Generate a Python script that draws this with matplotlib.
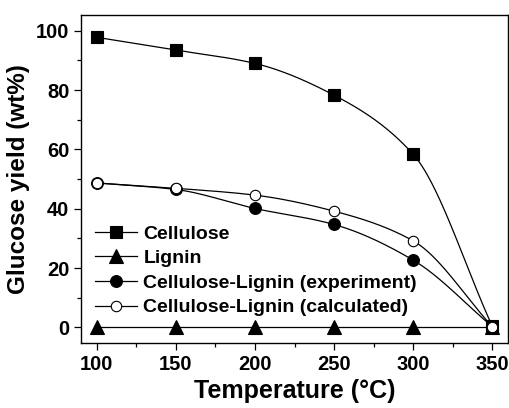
import numpy as np
import matplotlib.pyplot as plt
from matplotlib.ticker import MultipleLocator

# ==============================
# DATA
# ==============================

temperature = [100, 150, 200, 250, 300, 350]

cellulose = [97.8, 93.5, 89.0, 78.3, 58.4, 0.5]
cellulose_err = [0.8, 1.5, 1.2, 1.8, 1.0, 0.5]

lignin = [0, 0, 0, 0, 0, 0]

exp_yield = [48.7, 46.5, 40.1, 34.7, 22.7, 0.3]
exp_err = [1.5, 1.5, 0.6, 0.6, 0.6, 0.3]

calc_yield = [48.7, 46.9, 44.6, 39.2, 29.2, 0.3]
calc_err = [1.2, 1.2, 1.0, 1.0, 1.0, 0.3]

labels = ["Cellulose", "Lignin", "Cellulose-Lignin (experiment)",
          "Cellulose-Lignin (calculated)"]


def smooth(x, y, xs):
    # cubic hermite with damped tangents, for the smooth connecting line
    x = np.asarray(x, float)
    y = np.asarray(y, float)
    h = np.diff(x)
    d = np.diff(y) / h
    m = np.zeros_like(y)
    for k in range(1, len(x) - 1):
        if d[k - 1] * d[k] > 0:
            m[k] = 2.0 / (1.0 / d[k - 1] + 1.0 / d[k])
    m[0] = d[0]
    m[-1] = d[-1]
    idx = np.clip(np.searchsorted(x, xs) - 1, 0, len(x) - 2)
    t = (xs - x[idx]) / h[idx]
    h00 = 2 * t**3 - 3 * t**2 + 1
    h10 = t**3 - 2 * t**2 + t
    h01 = -2 * t**3 + 3 * t**2
    h11 = t**3 - t**2
    return (h00 * y[idx] + h10 * h[idx] * m[idx]
            + h01 * y[idx + 1] + h11 * h[idx] * m[idx + 1])


plt.rcParams['font.family'] = ['Liberation Sans', 'DejaVu Sans']
plt.rcParams['font.weight'] = 'bold'

fig = plt.figure(figsize=(5.1, 4.08), dpi=100)
ax = fig.add_axes([0.159, 0.159, 0.837, 0.804])

xs = np.linspace(100, 350, 400)

series = [
    (cellulose, cellulose_err, 's', 'black', 8),
    (lignin, None, '^', 'black', 9.5),
    (exp_yield, exp_err, 'o', 'black', 8.5),
    (calc_yield, calc_err, 'o', 'white', 7.5),
]

handles = []
for (vals, err, mk, fc, ms), lab in zip(series, labels):
    ax.plot(xs, smooth(temperature, vals, xs), color='black', lw=0.9, zorder=2)
    if err is not None:
        ax.errorbar(temperature, vals, yerr=err, fmt='none', ecolor='black',
                    elinewidth=0.7, capsize=2, capthick=0.7, zorder=3)
    ax.plot(temperature, vals, linestyle='none', marker=mk, ms=ms,
            mfc=fc, mec='black', mew=0.8, zorder=4)
    h, = ax.plot([], [], color='black', lw=0.9, marker=mk, ms=ms,
                 mfc=fc, mec='black', mew=0.8, label=lab)
    handles.append(h)

ax.set_xlim(90, 360)
ax.set_ylim(-5.3, 105.3)
ax.xaxis.set_major_locator(MultipleLocator(50))
ax.xaxis.set_minor_locator(MultipleLocator(25))
ax.yaxis.set_major_locator(MultipleLocator(20))
ax.yaxis.set_minor_locator(MultipleLocator(10))

ax.tick_params(which='both', direction='out', width=0.9, labelsize=14.5)
ax.tick_params(which='major', length=5)
ax.tick_params(which='minor', length=3)
for sp in ax.spines.values():
    sp.set_linewidth(1.0)

ax.set_xlabel("Temperature (°C)", fontsize=18, fontweight='bold', labelpad=4)
ax.set_ylabel("Glucose yield (wt%)", fontsize=17.5, fontweight='bold', labelpad=4)

ax.legend(handles=handles, loc='lower left', bbox_to_anchor=(0.0, 0.04),
          frameon=False, fontsize=14, handlelength=2.2, handletextpad=0.3,
          labelspacing=0.36, borderaxespad=0.3)

plt.savefig("out.png", dpi=100)
